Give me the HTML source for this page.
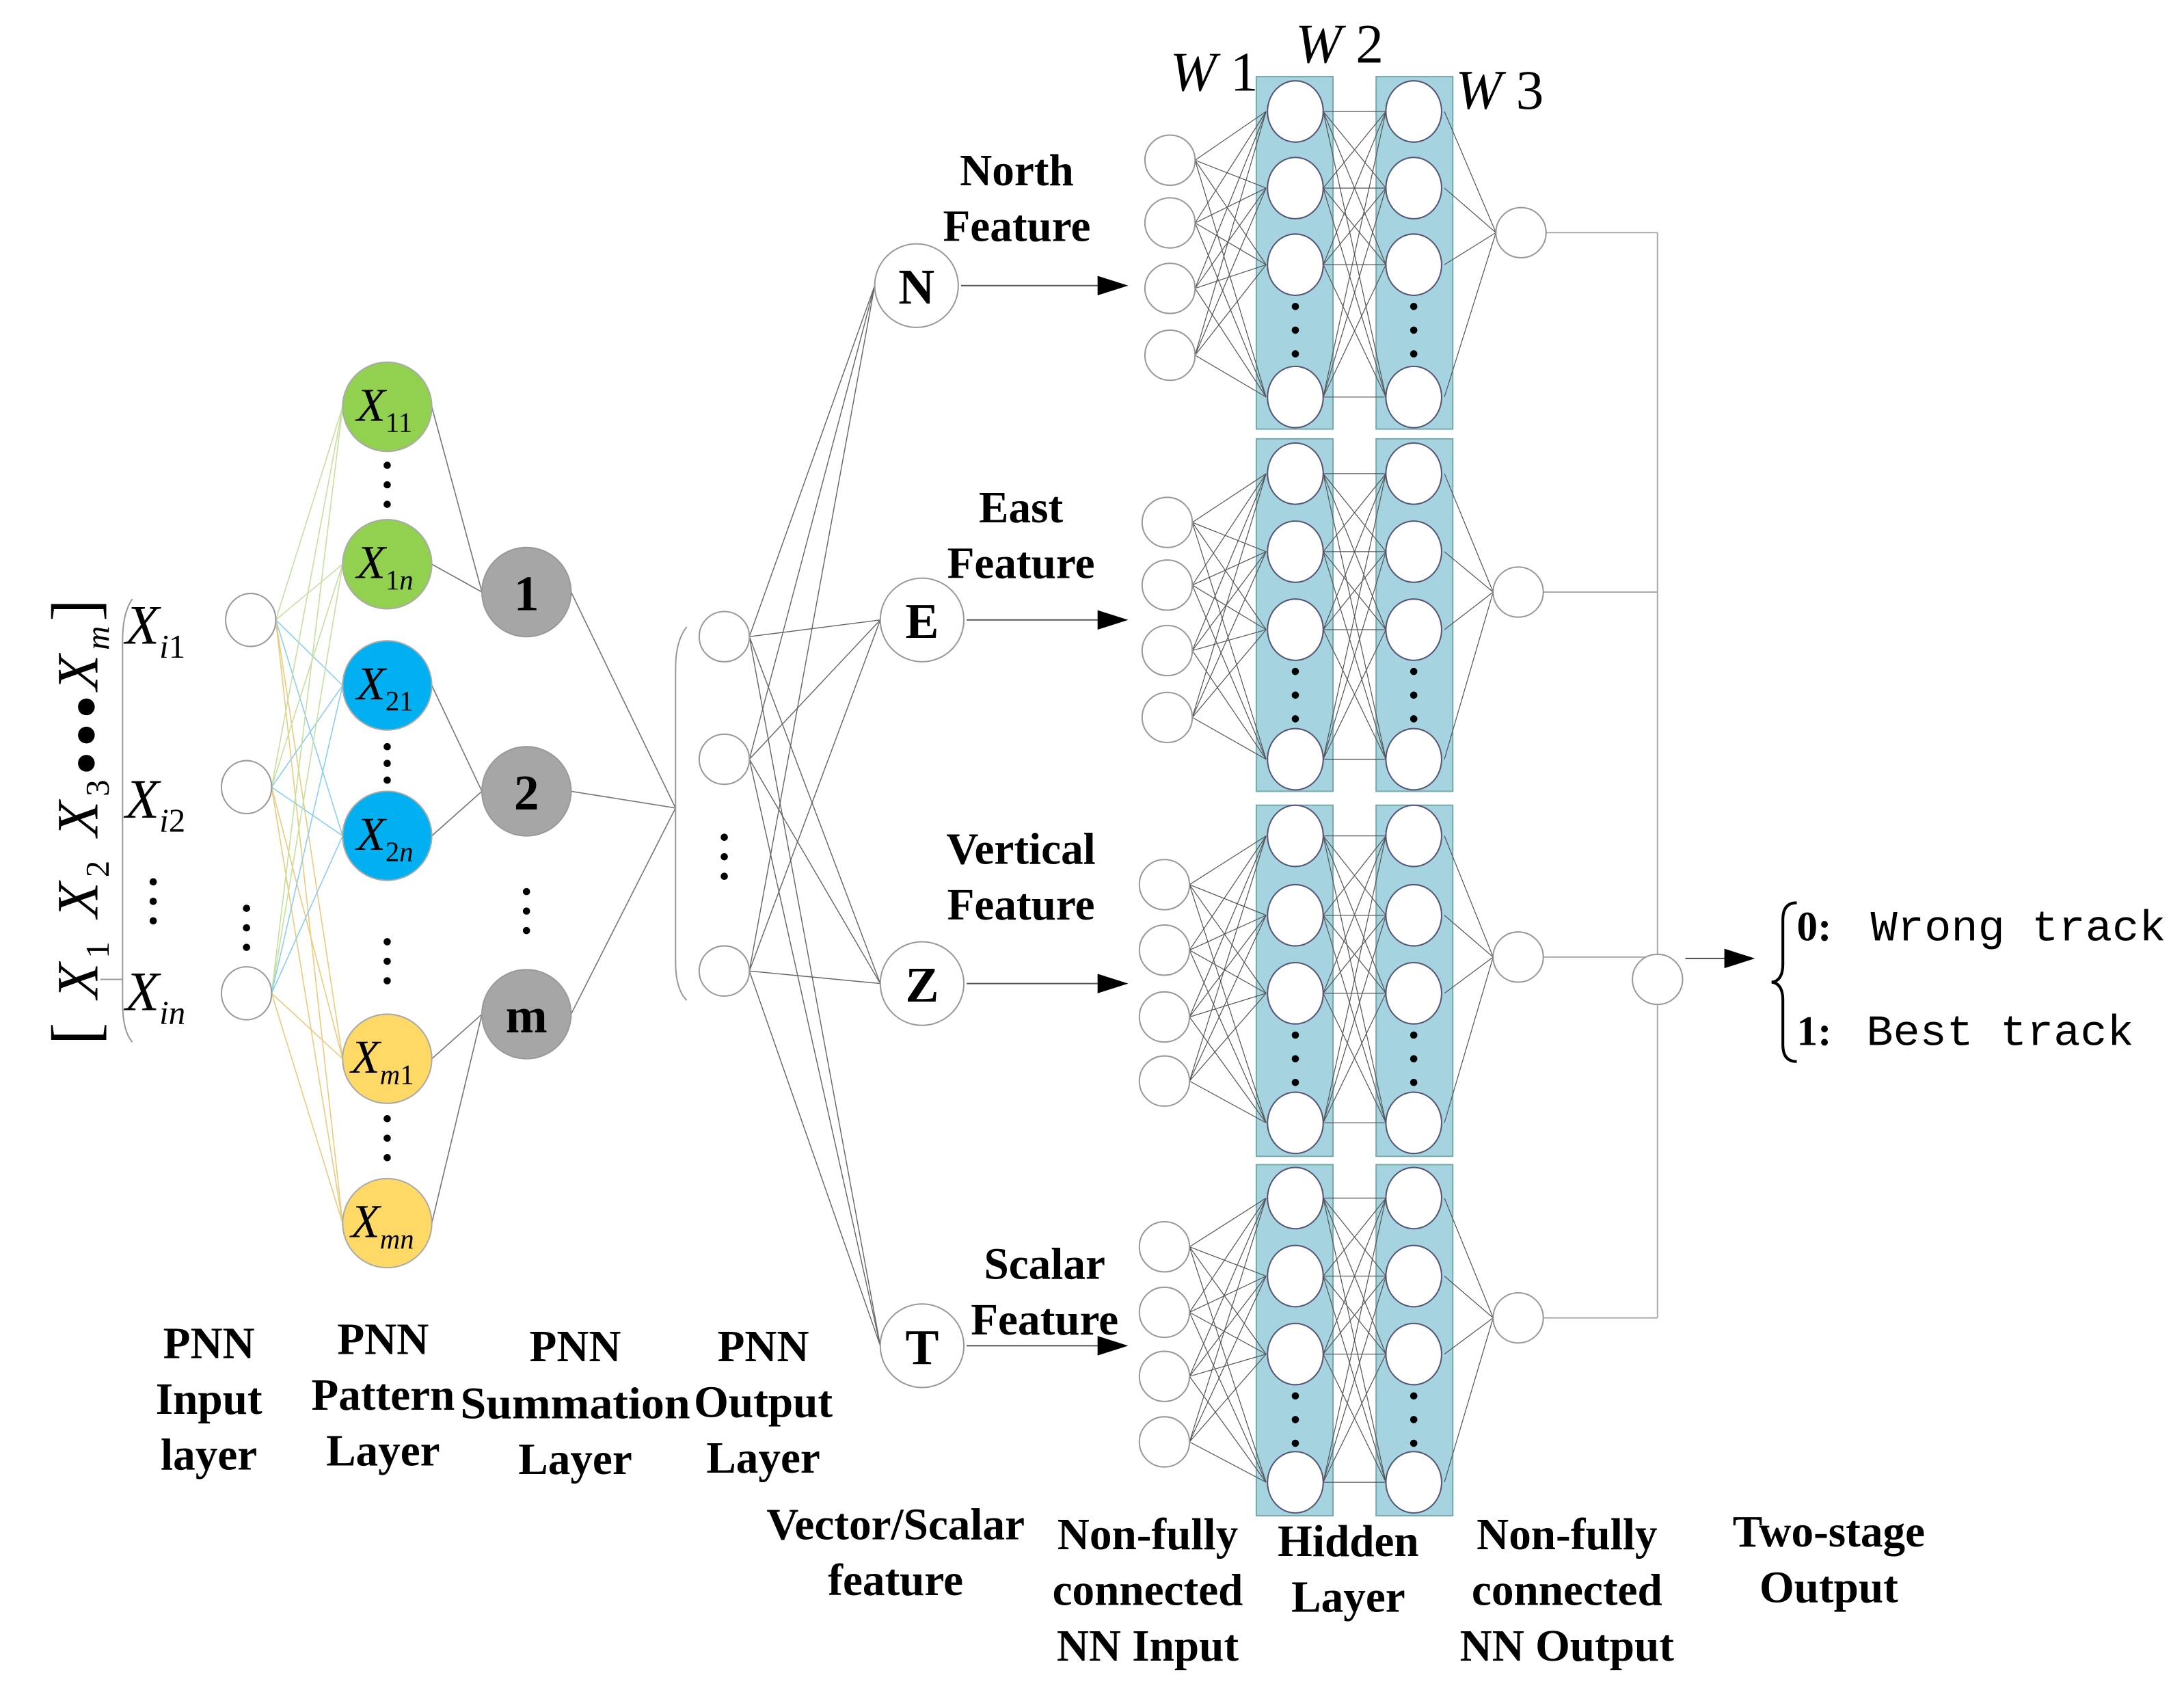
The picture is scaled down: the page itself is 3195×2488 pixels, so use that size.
<!DOCTYPE html>
<html><head><meta charset="utf-8"><style>
html,body{margin:0;padding:0;background:#fff}
svg{display:block}
.b{font-family:"Liberation Serif",serif;font-weight:bold;font-size:32px;text-anchor:middle;fill:#000}
.i{font-family:"Liberation Serif",serif;font-style:italic;fill:#000}
</style></head><body>
<svg id="s" xmlns="http://www.w3.org/2000/svg" width="3195" height="2488" viewBox="0 0 1568 1221" preserveAspectRatio="none">
<g id="lines"></g>
<g id="nodes"></g>
<g class="i" font-size="34">
<text x="256" y="302">X<tspan font-size="20" dy="8" font-style="normal">11</tspan></text>
<text x="256" y="415">X<tspan font-size="20" dy="8" font-style="normal">1</tspan><tspan font-size="20">n</tspan></text>
<text x="256" y="502">X<tspan font-size="20" dy="8" font-style="normal">21</tspan></text>
<text x="256" y="610">X<tspan font-size="20" dy="8" font-style="normal">2</tspan><tspan font-size="20">n</tspan></text>
<text x="252" y="770">X<tspan font-size="20" dy="8">m</tspan><tspan font-size="20" font-style="normal">1</tspan></text>
<text x="252" y="888">X<tspan font-size="20" dy="8">mn</tspan></text>
</g>
<g font-family="Liberation Serif,serif" font-weight="bold" font-size="36" text-anchor="middle">
<text x="378" y="438">1</text><text x="378" y="581">2</text><text x="378" y="741">m</text>
<text x="658" y="218">N</text><text x="662" y="458">E</text><text x="662" y="719">Z</text><text x="662" y="979">T</text>
</g>
<g class="i" font-size="40">
<text x="90" y="462">X<tspan font-size="24" dy="10">i</tspan><tspan font-size="24" font-style="normal">1</tspan></text>
<text x="90" y="587">X<tspan font-size="24" dy="10">i</tspan><tspan font-size="24" font-style="normal">2</tspan></text>
<text x="90" y="725">X<tspan font-size="24" dy="10">in</tspan></text>
<text x="840" y="65">W<tspan font-style="normal"> 1</tspan></text>
<text x="930" y="45">W<tspan font-style="normal"> 2</tspan></text>
<text x="1045" y="78">W<tspan font-style="normal"> 3</tspan></text>
</g>
<g transform="translate(70,750) rotate(-90)" class="i" font-size="42">
<text x="0" y="0" textLength="320" lengthAdjust="spacing"><tspan font-style="normal" font-size="48">[</tspan> X<tspan font-size="24" dy="8" font-style="normal">1</tspan><tspan dy="-8"> X</tspan><tspan font-size="24" dy="8" font-style="normal">2</tspan><tspan dy="-8"> X</tspan><tspan font-size="24" dy="8" font-style="normal">3</tspan><tspan dy="-8" font-style="normal" font-size="28">●●●</tspan>X<tspan font-size="24" dy="8">m</tspan><tspan dy="-8" font-style="normal" font-size="48">]</tspan></text>
</g>
<text class="b" x="730" y="133">North</text><text class="b" x="730" y="173">Feature</text>
<text class="b" x="733" y="375">East</text><text class="b" x="733" y="415">Feature</text>
<text class="b" x="733" y="620">Vertical</text><text class="b" x="733" y="660">Feature</text>
<text class="b" x="750" y="918">Scalar</text><text class="b" x="750" y="958">Feature</text>
<text class="b" x="150" y="975">PNN</text><text class="b" x="150" y="1015">Input</text><text class="b" x="150" y="1055">layer</text>
<text class="b" x="275" y="972">PNN</text><text class="b" x="275" y="1012">Pattern</text><text class="b" x="275" y="1052">Layer</text>
<text class="b" x="413" y="977">PNN</text><text class="b" x="413" y="1018" textLength="165" lengthAdjust="spacingAndGlyphs">Summation</text><text class="b" x="413" y="1058">Layer</text>
<text class="b" x="548" y="977">PNN</text><text class="b" x="548" y="1017">Output</text><text class="b" x="548" y="1057">Layer</text>
<text class="b" x="643" y="1105">Vector/Scalar</text><text class="b" x="643" y="1145">feature</text>
<text class="b" x="824" y="1112">Non-fully</text><text class="b" x="824" y="1152">connected</text><text class="b" x="824" y="1192">NN Input</text>
<text class="b" x="968" y="1117">Hidden</text><text class="b" x="968" y="1157">Layer</text>
<text class="b" x="1125" y="1112">Non-fully</text><text class="b" x="1125" y="1152">connected</text><text class="b" x="1125" y="1192">NN Output</text>
<text class="b" x="1313" y="1110">Two-stage</text><text class="b" x="1313" y="1150">Output</text>
<text x="1290" y="675" font-size="30" font-family="Liberation Serif,serif" font-weight="bold">0:</text>
<text x="1343" y="675" font-size="31" font-family="Liberation Mono,monospace" textLength="212" lengthAdjust="spacingAndGlyphs">Wrong track</text>
<text x="1290" y="750" font-size="30" font-family="Liberation Serif,serif" font-weight="bold">1:</text>
<text x="1340" y="750" font-size="31" font-family="Liberation Mono,monospace" textLength="192" lengthAdjust="spacingAndGlyphs">Best track</text>
<path d="M1290,648 Q1280,648 1280,660 L1280,692 Q1280,704 1272,705 Q1280,706 1280,718 L1280,750 Q1280,762 1290,762" fill="none" stroke="#000" stroke-width="2"/>
</svg>
<script>
var NS="http://www.w3.org/2000/svg",L=document.getElementById("lines"),N=document.getElementById("nodes");
function el(p,t,a){var e=document.createElementNS(NS,t);for(var k in a)e.setAttribute(k,a[k]);p.appendChild(e);return e;}
function ln(x1,y1,x2,y2,c,w){el(L,"line",{x1:x1,y1:y1,x2:x2,y2:y2,stroke:c||"#777",'stroke-width':w||0.8});}
function circ(x,y,rx,ry,f,s){el(N,"ellipse",{cx:x,cy:y,rx:rx,ry:ry,fill:f||"#fff",stroke:s||"#999",'stroke-width':1});}
function dots(x,ys,r){ys.forEach(function(y){el(N,"circle",{cx:x,cy:y,r:r||2.6,fill:"#000"});});}
var inp=[[180,445],[177,565],[177,713]];
var pat=[[278,292,"#92d050"],[278,405,"#92d050"],[278,492,"#00b0f0"],[278,600,"#00b0f0"],[278,760,"#ffd966"],[278,878,"#ffd966"]];
var lc=["#c6e0a0","#c6e0a0","#8ccff0","#8ccff0","#e8cc80","#e8cc80"];
inp.forEach(function(a){pat.forEach(function(p,j){ln(a[0]+18,a[1],p[0]-32,p[1],lc[j],0.8);});});
var sum=[[378,425],[378,568],[378,728]];
pat.forEach(function(p,j){var s=sum[Math.floor(j/2)];ln(p[0]+32,p[1],s[0]-32,s[1]);});
sum.forEach(function(s){ln(s[0]+32,s[1],485,580);});
var out=[[520,457],[520,545],[520,697]];
var feat=[[658,205],[662,445],[662,706],[662,966]];
out.forEach(function(o){feat.forEach(function(f){ln(o[0]+18,o[1],f[0]-30,f[1],"#666",0.7);});});
el(L,"path",{d:"M493,450 Q485,460 485,480 L485,690 Q485,710 493,718",fill:"none",stroke:"#999",'stroke-width':1});
el(L,"path",{d:"M95,430 Q88,440 88,460 L88,720 Q88,740 95,748",fill:"none",stroke:"#999",'stroke-width':1});
ln(72,703,88,703,"#999",1);
feat.forEach(function(f){ln(f[0]+32,f[1],790,f[1],"#555",1);el(N,"polygon",{points:"788,"+(f[1]-7)+" 810,"+f[1]+" 788,"+(f[1]+7),fill:"#000"});});
var blocks=[
 {ry:55,rh:253,hy:[80,135,190,285],ix:840,iy:[115,160,207,255],o:[1092,167]},
 {ry:315,rh:253,hy:[340,396,452,545],ix:838,iy:[375,420,467,515],o:[1090,425]},
 {ry:578,rh:252,hy:[600,657,713,806],ix:836,iy:[635,682,730,776],o:[1090,687]},
 {ry:836,rh:252,hy:[860,916,972,1064],ix:836,iy:[895,942,988,1035],o:[1090,946]}];
blocks.forEach(function(b){
 el(L,"rect",{x:902,y:b.ry,width:55,height:b.rh,fill:"#a5d3e0",stroke:"#7aa",'stroke-width':1});
 el(L,"rect",{x:988,y:b.ry,width:55,height:b.rh,fill:"#a5d3e0",stroke:"#7aa",'stroke-width':1});
 b.iy.forEach(function(y){b.hy.forEach(function(h){ln(b.ix+18,y,909,h,"#555",0.6);});});
 b.hy.forEach(function(h){b.hy.forEach(function(h2){ln(950,h,995,h2,"#555",0.6);});});
 b.hy.forEach(function(h){ln(1037,h,b.o[0]-18,b.o[1],"#555",0.6);});
 ln(b.o[0]+18,b.o[1],1190,b.o[1],"#aaa",1);
 b.iy.forEach(function(y){circ(b.ix,y,18,18);});
 b.hy.forEach(function(h){circ(930,h,20,22,"#fff","#557");circ(1015,h,20,22,"#fff","#557");});
 var d0=b.hy[2];dots(930,[d0+30,d0+47,d0+64]);dots(1015,[d0+30,d0+47,d0+64]);
 circ(b.o[0],b.o[1],18,18);
});
ln(1190,167,1190,685,"#aaa",1);ln(1190,721,1190,946,"#aaa",1);
circ(1190,703,18,18);
ln(1210,688,1240,688,"#555",1);el(N,"polygon",{points:"1238,681 1260,688 1238,695",fill:"#000"});
inp.forEach(function(a){circ(a[0],a[1],18,19);});
pat.forEach(function(p){circ(p[0],p[1],32,32,p[2],"#aaa");});
sum.forEach(function(s){circ(s[0],s[1],32,32,"#a6a6a6","#999");});
out.forEach(function(o){circ(o[0],o[1],18,18);});
feat.forEach(function(f){circ(f[0],f[1],30,30);});
dots(278,[334,348,362]);dots(278,[536,548,560]);dots(278,[676,690,704]);dots(278,[803,817,831]);
dots(378,[640,654,668]);dots(520,[601,615,629]);dots(177,[652,666,680]);dots(110,[633,647,661]);
</script>
</body></html>
